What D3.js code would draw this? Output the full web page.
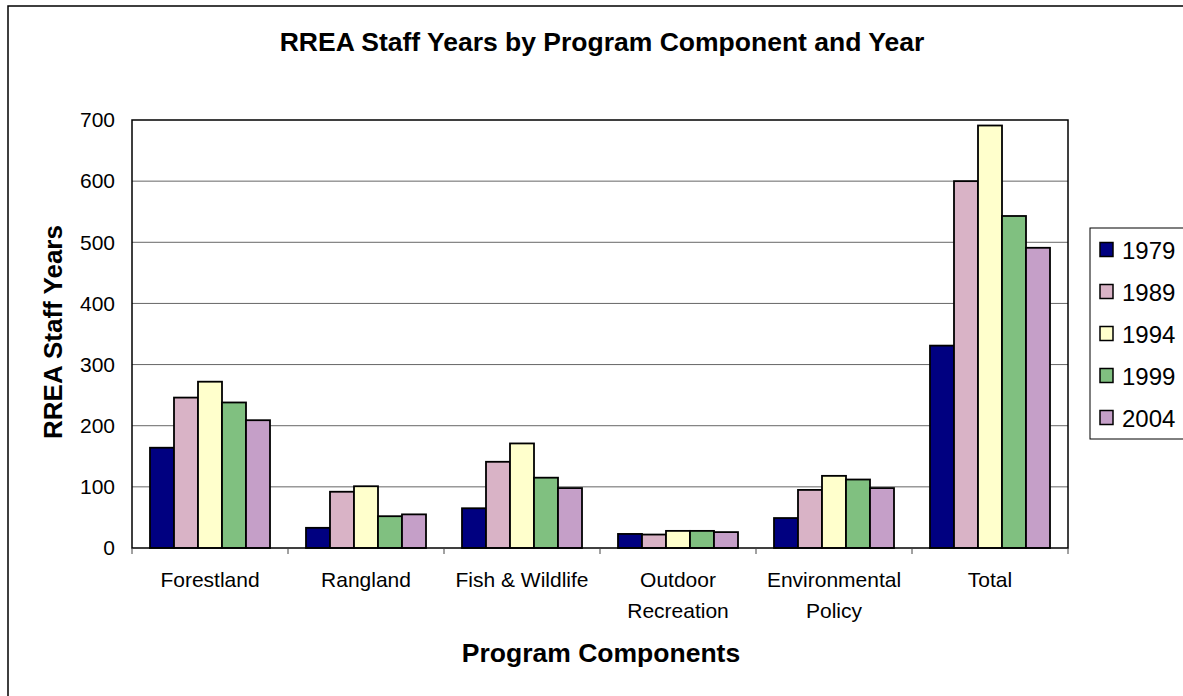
<!DOCTYPE html>
<html>
<head>
<meta charset="utf-8">
<script src="https://cdn.jsdelivr.net/npm/d3@7"></script>
<style>
  html, body { margin: 0; padding: 0; background: #fff; }
  svg { display: block; font-family: Arial, "Liberation Sans", sans-serif; }
</style>
</head>
<body>
<svg id="chart" width="1183" height="696"></svg>
<script>
// Staff years by program component, one series per survey year
const categories = [["Forestland"], ["Rangland"], ["Fish & Wildlife"], ["Outdoor", "Recreation"], ["Environmental", "Policy"], ["Total"]];
const years = ["1979", "1989", "1994", "1999", "2004"];
const values1979 = [164, 33, 65, 23, 49, 331];
const values1989 = [246, 92, 141, 22, 95, 600];
const values1994 = [272, 101, 171, 28, 118, 691];
const values1999 = [238, 52, 115, 28, 112, 543];
const values2004 = [209, 55, 98, 26, 98, 491];
const yTicks = [0, 100, 200, 300, 400, 500, 600, 700];
const colors = ["#000080", "#d9b3c6", "#ffffcc", "#80c080", "#c59fc8"];

const seriesValues = [values1979, values1989, values1994, values1999, values2004];
const catKeys = categories.map(c => c.join(" "));

const svg = d3.select("#chart");
const plot = { left: 132, right: 1068, top: 120, bottom: 548 };

// Outer chart frame
svg.append("rect")
  .attr("x", 8).attr("y", 6).attr("width", 1200).attr("height", 720)
  .attr("fill", "#fff").attr("stroke", "#000").attr("stroke-width", 1.5);

const x0 = d3.scaleBand().domain(catKeys).range([plot.left, plot.right]).paddingInner(0).paddingOuter(0);
const groupPad = x0.bandwidth() * 18 / 156;
const x1 = d3.scaleBand().domain(years).range([groupPad, x0.bandwidth() - groupPad]).padding(0);
const y = d3.scaleLinear().domain([0, 700]).range([plot.bottom, plot.top]);

// Gridlines
svg.append("g")
  .selectAll("line").data(yTicks.filter(t => t > 0 && t < 700)).join("line")
  .attr("x1", plot.left).attr("x2", plot.right)
  .attr("y1", d => y(d)).attr("y2", d => y(d))
  .attr("stroke", "#666").attr("stroke-width", 1);

// Bars
const groups = svg.append("g").selectAll("g").data(catKeys).join("g")
  .attr("transform", d => `translate(${x0(d)},0)`);
groups.selectAll("rect")
  .data((d, i) => years.map((yr, s) => ({ yr, s, v: seriesValues[s][i] })))
  .join("rect")
  .attr("x", d => x1(d.yr))
  .attr("width", x1.bandwidth())
  .attr("y", d => y(d.v))
  .attr("height", d => y(0) - y(d.v))
  .attr("fill", d => colors[d.s])
  .attr("stroke", "#000").attr("stroke-width", 1.8);

// Plot area frame
svg.append("rect")
  .attr("x", plot.left).attr("y", plot.top)
  .attr("width", plot.right - plot.left).attr("height", plot.bottom - plot.top)
  .attr("fill", "none").attr("stroke", "#000").attr("stroke-width", 1.5);

// Y axis labels
const yAxis = d3.axisLeft(y).tickValues(yTicks).tickSize(0).tickPadding(17);
const gy = svg.append("g").attr("transform", `translate(${plot.left},0)`).call(yAxis);
gy.select(".domain").remove();
gy.selectAll("text").attr("font-size", 21).attr("fill", "#000")
  .attr("font-family", "Arial, 'Liberation Sans', sans-serif");

// X axis: ticks at category boundaries
const bounds = catKeys.map(k => x0(k)).concat([plot.right]);
svg.append("g").selectAll("line").data(bounds).join("line")
  .attr("x1", d => d).attr("x2", d => d)
  .attr("y1", plot.bottom).attr("y2", plot.bottom + 6)
  .attr("stroke", "#444").attr("stroke-width", 1);

const xl = svg.append("g").selectAll("text").data(categories).join("text")
  .attr("x", (d, i) => x0(catKeys[i]) + x0.bandwidth() / 2)
  .attr("y", 587)
  .attr("text-anchor", "middle")
  .attr("font-size", 21)
  .attr("fill", "#000");
xl.selectAll("tspan").data(d => d).join("tspan")
  .attr("x", function () { return d3.select(this.parentNode).attr("x"); })
  .attr("dy", (d, i) => i === 0 ? 0 : 31)
  .text(d => d);

// Titles
svg.append("text")
  .attr("x", 602).attr("y", 51)
  .attr("text-anchor", "middle").attr("font-weight", "bold").attr("font-size", 26.5)
  .text("RREA Staff Years by Program Component and Year");

svg.append("text")
  .attr("x", 601).attr("y", 662)
  .attr("text-anchor", "middle").attr("font-weight", "bold").attr("font-size", 26.5)
  .text("Program Components");

svg.append("text")
  .attr("transform", "translate(62,332) rotate(-90)")
  .attr("text-anchor", "middle").attr("font-weight", "bold").attr("font-size", 26)
  .text("RREA Staff Years");

// Legend
const legend = svg.append("g");
legend.append("rect")
  .attr("x", 1090).attr("y", 228).attr("width", 120).attr("height", 211)
  .attr("fill", "#fff").attr("stroke", "#000").attr("stroke-width", 1);
const items = legend.selectAll("g.item").data(years).join("g").attr("class", "item")
  .attr("transform", (d, i) => `translate(1100,${249.5 + i * 42})`);
items.append("rect")
  .attr("x", 0).attr("y", -7).attr("width", 13).attr("height", 14)
  .attr("fill", (d, i) => colors[i]).attr("stroke", "#000").attr("stroke-width", 1.5);
items.append("text")
  .attr("x", 22).attr("y", 9)
  .attr("font-size", 24).attr("fill", "#000")
  .text(d => d);
</script>
</body>
</html>
